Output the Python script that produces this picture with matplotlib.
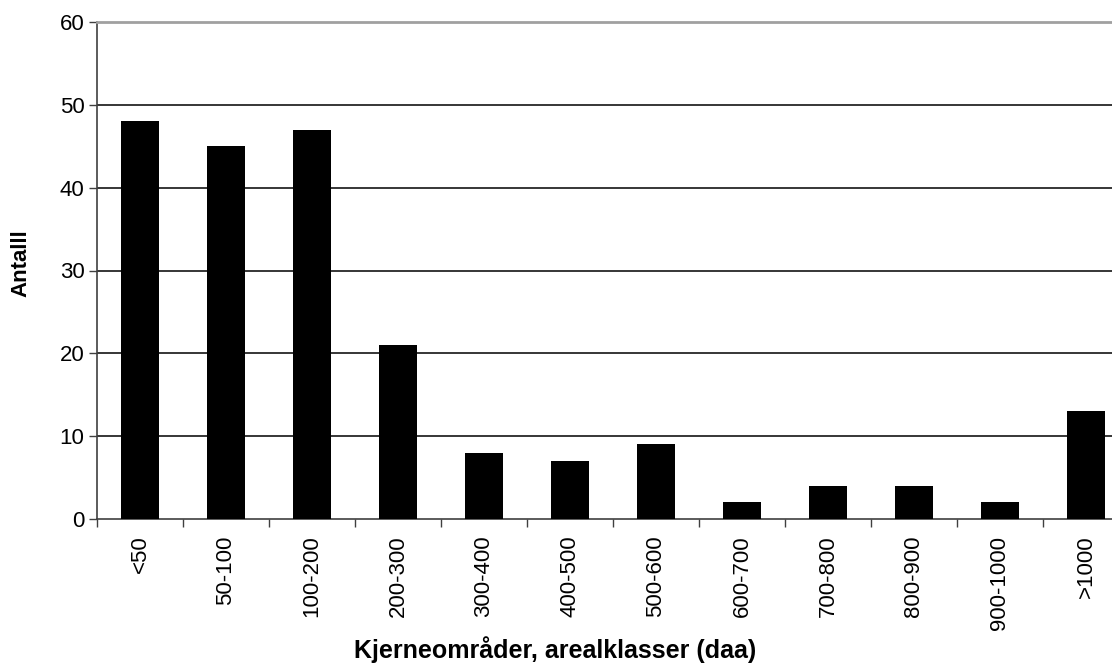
import matplotlib
matplotlib.use("Agg")
import matplotlib.pyplot as plt

categories = ["<50", "50-100", "100-200", "200-300", "300-400", "400-500",
              "500-600", "600-700", "700-800", "800-900", "900-1000", ">1000"]
counts = [48, 45, 47, 21, 8, 7, 9, 2, 4, 4, 2, 13]
y_ticks = [0, 10, 20, 30, 40, 50, 60]

plt.rcParams["font.family"] = ["Liberation Sans", "DejaVu Sans"]

W, H = 1112, 667
fig = plt.figure(figsize=(W / 100, H / 100), dpi=100)
# plot area runs past the right edge of the picture, as in the reference
left, right, top, bottom = 97, 1129, 22, 519
ax = fig.add_axes([left / W, 1 - bottom / H, (right - left) / W, (bottom - top) / H])

x = range(len(categories))
ax.bar(x, counts, width=0.44, color="black", zorder=3)

ax.set_xlim(-0.5, len(categories) - 0.5)
ax.set_ylim(0, 60)
ax.set_yticks(y_ticks)
ax.set_yticklabels([str(v) for v in y_ticks], fontsize=16)
for v in y_ticks[1:-1]:
    ax.axhline(v, color="black", lw=1.1, zorder=1)

ax.set_xticks([i - 0.5 for i in range(len(categories) + 1)])
ax.set_xticklabels([])
ax.set_xticks(list(x), minor=True)
ax.set_xticklabels(categories, minor=True, rotation=90, fontsize=16, va="top")
ax.tick_params(axis="x", which="minor", length=0, pad=12)
ax.tick_params(axis="x", which="major", length=6, width=1, color="#404040")
ax.tick_params(axis="y", length=6, width=1, color="#404040", pad=3)

for s in ("left", "bottom"):
    ax.spines[s].set_color("#404040")
    ax.spines[s].set_linewidth(1.2)
ax.spines["top"].set_color("#a0a0a0")
ax.spines["top"].set_linewidth(2)
ax.spines["right"].set_visible(False)

fig.text(21 / W, 1 - 263 / H, "Antalll", rotation=90, fontsize=16,
         fontweight="bold", ha="center", va="center")
fig.text(555 / W, 1 - 650 / H, "Kjerneområder, arealklasser (daa)",
         fontsize=18, fontweight="bold", ha="center", va="center")

fig.savefig("out.png", dpi=100)
